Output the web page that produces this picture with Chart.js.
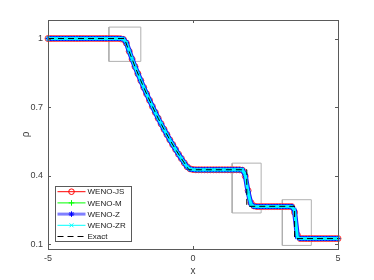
<!DOCTYPE html>
<html>
<head>
<meta charset="utf-8">
<script src="https://cdn.jsdelivr.net/npm/chart.js@4/dist/chart.umd.min.js"></script>
<style>
  body { margin: 0; background: #fff; }
  canvas { display: block; }
</style>
</head>
<body>
<canvas id="chart" width="374" height="280"></canvas>
<script>
// grid points of the numerical solutions
const xNum = [
  -5.0, -4.9, -4.8, -4.7, -4.6, -4.5, -4.4, -4.3, -4.2, -4.1,
  -4.0, -3.9, -3.8, -3.7, -3.6, -3.5, -3.4, -3.3, -3.2, -3.1,
  -3.0, -2.9, -2.8, -2.7, -2.6, -2.5, -2.4, -2.3, -2.2, -2.1,
  -2.0, -1.9, -1.8, -1.7, -1.6, -1.5, -1.4, -1.3, -1.2, -1.1,
  -1.0, -0.9, -0.8, -0.7, -0.6, -0.5, -0.4, -0.3, -0.2, -0.1,
  0.0, 0.1, 0.2, 0.3, 0.4, 0.5, 0.6, 0.7, 0.8, 0.9,
  1.0, 1.1, 1.2, 1.3, 1.4, 1.5, 1.6, 1.7, 1.8, 1.9,
  2.0, 2.1, 2.2, 2.3, 2.4, 2.5, 2.6, 2.7, 2.8, 2.9,
  3.0, 3.1, 3.2, 3.3, 3.4, 3.5, 3.6, 3.7, 3.8, 3.9,
  4.0, 4.1, 4.2, 4.3, 4.4, 4.5, 4.6, 4.7, 4.8, 4.9,
  5.0
];

const rhoJS = [
  1, 1, 1, 1, 1, 1, 1, 1, 1, 1,
  1, 1, 1, 1, 1, 1, 1, 1, 1, 1,
  1, 1, 1, 1, 1, 0.999, 0.996, 0.980, 0.944, 0.910,
  0.877, 0.846, 0.816, 0.786, 0.758, 0.730, 0.703, 0.677, 0.651, 0.627,
  0.603, 0.580, 0.557, 0.536, 0.515, 0.494, 0.475, 0.456, 0.439, 0.430,
  0.427, 0.426, 0.426, 0.426, 0.426, 0.426, 0.426, 0.426, 0.426, 0.426,
  0.426, 0.426, 0.426, 0.426, 0.426, 0.426, 0.426, 0.424, 0.398, 0.335,
  0.282, 0.268, 0.265, 0.265, 0.265, 0.265, 0.265, 0.265, 0.265, 0.265,
  0.265, 0.265, 0.265, 0.265, 0.265, 0.240, 0.140, 0.125, 0.125, 0.125,
  0.125, 0.125, 0.125, 0.125, 0.125, 0.125, 0.125, 0.125, 0.125, 0.125,
  0.125
];

const rhoM = [
  1, 1, 1, 1, 1, 1, 1, 1, 1, 1,
  1, 1, 1, 1, 1, 1, 1, 1, 1, 1,
  1, 1, 1, 1, 1, 1, 0.997, 0.981, 0.945, 0.910,
  0.877, 0.846, 0.816, 0.786, 0.758, 0.730, 0.703, 0.677, 0.651, 0.627,
  0.603, 0.580, 0.557, 0.536, 0.515, 0.494, 0.475, 0.456, 0.438, 0.429,
  0.427, 0.426, 0.426, 0.426, 0.426, 0.426, 0.426, 0.426, 0.426, 0.426,
  0.426, 0.426, 0.426, 0.426, 0.426, 0.426, 0.426, 0.425, 0.403, 0.330,
  0.277, 0.267, 0.265, 0.265, 0.265, 0.265, 0.265, 0.265, 0.265, 0.265,
  0.265, 0.265, 0.265, 0.265, 0.265, 0.245, 0.135, 0.125, 0.125, 0.125,
  0.125, 0.125, 0.125, 0.125, 0.125, 0.125, 0.125, 0.125, 0.125, 0.125,
  0.125
];

const rhoZ = [
  1, 1, 1, 1, 1, 1, 1, 1, 1, 1,
  1, 1, 1, 1, 1, 1, 1, 1, 1, 1,
  1, 1, 1, 1, 1, 1, 0.998, 0.982, 0.945, 0.910,
  0.877, 0.846, 0.816, 0.786, 0.758, 0.730, 0.703, 0.677, 0.651, 0.627,
  0.603, 0.580, 0.557, 0.536, 0.515, 0.494, 0.475, 0.456, 0.438, 0.429,
  0.427, 0.426, 0.426, 0.426, 0.426, 0.426, 0.426, 0.426, 0.426, 0.426,
  0.426, 0.426, 0.426, 0.426, 0.426, 0.426, 0.426, 0.425, 0.404, 0.328,
  0.276, 0.266, 0.265, 0.265, 0.265, 0.265, 0.265, 0.265, 0.265, 0.265,
  0.265, 0.265, 0.265, 0.265, 0.265, 0.247, 0.133, 0.125, 0.125, 0.125,
  0.125, 0.125, 0.125, 0.125, 0.125, 0.125, 0.125, 0.125, 0.125, 0.125,
  0.125
];

const rhoZR = [
  1, 1, 1, 1, 1, 1, 1, 1, 1, 1,
  1, 1, 1, 1, 1, 1, 1, 1, 1, 1,
  1, 1, 1, 1, 1, 1, 0.998, 0.982, 0.945, 0.910,
  0.877, 0.846, 0.816, 0.786, 0.758, 0.730, 0.703, 0.677, 0.651, 0.627,
  0.603, 0.580, 0.557, 0.536, 0.515, 0.494, 0.475, 0.456, 0.438, 0.429,
  0.427, 0.426, 0.426, 0.426, 0.426, 0.426, 0.426, 0.426, 0.426, 0.426,
  0.426, 0.426, 0.426, 0.426, 0.426, 0.426, 0.426, 0.426, 0.406, 0.326,
  0.274, 0.266, 0.265, 0.265, 0.265, 0.265, 0.265, 0.265, 0.265, 0.265,
  0.265, 0.265, 0.265, 0.265, 0.265, 0.250, 0.130, 0.125, 0.125, 0.125,
  0.125, 0.125, 0.125, 0.125, 0.125, 0.125, 0.125, 0.125, 0.125, 0.125,
  0.125
];

// exact solution
const xExact = [-5, -2.366, -2.2, -2.0, -1.8, -1.6, -1.4, -1.2, -1.0, -0.8, -0.6, -0.4, -0.2, -0.141, 1.855, 1.855, 3.504, 3.504, 5];
const rhoExact = [1, 1, 0.943, 0.877, 0.816, 0.758, 0.703, 0.651, 0.603, 0.557, 0.515, 0.475, 0.437, 0.426, 0.426, 0.266, 0.266, 0.125, 0.125];

// zoom-in boxes [x0, x1] and [y0, y1]
const boxX = [[-2.9, -1.8], [1.35, 2.35], [3.08, 4.08]];
const boxY = [[0.9, 1.05], [0.237, 0.455], [0.095, 0.295]];

const xTicks = [-5, 0, 5];
const yTicks = [0.1, 0.4, 0.7, 1];

const font = "'Liberation Sans', Arial, sans-serif";

function pts(xs, ys) {
    return xs.map((x, i) => ({ x: x, y: ys[i] }));
}

function boxPts(i) {
    const [x0, x1] = boxX[i];
    const [y0, y1] = boxY[i];
    return [{x: x0, y: y0}, {x: x1, y: y0}, {x: x1, y: y1}, {x: x0, y: y1}, {x: x0, y: y0}];
}

const datasets = [
    { label: 'Exact', data: pts(xExact, rhoExact), borderColor: '#000', borderWidth: 1, borderDash: [6, 4], pointRadius: 0, order: 0 },
    { label: 'WENO-ZR', data: pts(xNum, rhoZR), borderColor: '#00ffff', borderWidth: 3, pointStyle: 'crossRot', pointRadius: 2.5, pointBorderColor: '#00e5ff', pointBorderWidth: 1, order: 1 },
    { label: 'WENO-Z', data: pts(xNum, rhoZ), borderColor: '#1a1aff', borderWidth: 5, pointStyle: 'star', pointRadius: 2.5, pointBorderColor: '#0000ff', pointBorderWidth: 1, order: 2 },
    { label: 'WENO-M', data: pts(xNum, rhoM), borderColor: '#00ff00', borderWidth: 1, pointStyle: 'cross', pointRadius: 2.5, pointBorderColor: '#00ff00', pointBorderWidth: 1, order: 3 },
    { label: 'WENO-JS', data: pts(xNum, rhoJS), borderColor: '#ff0000', borderWidth: 1, pointStyle: 'circle', pointRadius: 3, pointBackgroundColor: 'rgba(0,0,0,0)', pointBorderColor: '#ff3030', pointBorderWidth: 1, order: 4 }
];
boxX.forEach((b, i) => {
    datasets.push({ label: 'box' + i, data: boxPts(i), borderColor: '#b0b0b0', borderWidth: 1, pointRadius: 0, order: 5 });
});

// legend entries in MATLAB order
const legendItems = [
    { text: 'WENO-JS', color: '#ff0000', width: 1, marker: 'circle', markerColor: '#ff0000' },
    { text: 'WENO-M', color: '#00ff00', width: 1, marker: 'cross', markerColor: '#00ff00' },
    { text: 'WENO-Z', color: '#8080ff', width: 3, marker: 'star', markerColor: '#0000ff' },
    { text: 'WENO-ZR', color: '#00ffff', width: 1, marker: 'crossRot', markerColor: '#00ffff' },
    { text: 'Exact', color: '#000', width: 1, dash: [6, 4] }
];

const framePlugin = {
    id: 'frame',
    afterDraw(chart) {
        const ctx = chart.ctx;
        const a = chart.chartArea;
        const xs = chart.scales.x, ys = chart.scales.y;
        ctx.save();
        ctx.strokeStyle = '#5a5a5a';
        ctx.lineWidth = 1;
        ctx.setLineDash([]);
        ctx.strokeRect(a.left + 0.5, a.top + 0.5, a.right - a.left, a.bottom - a.top);
        ctx.beginPath();
        xTicks.forEach(v => {
            const px = Math.round(xs.getPixelForValue(v)) + 0.5;
            ctx.moveTo(px, a.bottom); ctx.lineTo(px, a.bottom - 3);
            ctx.moveTo(px, a.top); ctx.lineTo(px, a.top + 3);
        });
        yTicks.forEach(v => {
            const py = Math.round(ys.getPixelForValue(v)) + 0.5;
            ctx.moveTo(a.left, py); ctx.lineTo(a.left + 3, py);
            ctx.moveTo(a.right, py); ctx.lineTo(a.right - 3, py);
        });
        ctx.stroke();

        // legend box
        const lx = 55.5, ly = 186.5, lw = 76, lh = 55;
        ctx.fillStyle = '#fff';
        ctx.fillRect(lx, ly, lw, lh);
        ctx.strokeStyle = '#5a5a5a';
        ctx.strokeRect(lx, ly, lw, lh);
        ctx.font = '8px ' + font;
        ctx.textBaseline = 'middle';
        legendItems.forEach((it, i) => {
            const y = 191.7 + i * 11.2;
            ctx.save();
            ctx.strokeStyle = it.color;
            ctx.lineWidth = it.width;
            ctx.setLineDash(it.dash || []);
            ctx.beginPath();
            ctx.moveTo(57.5, y); ctx.lineTo(85.5, y);
            ctx.stroke();
            ctx.restore();
            if (it.marker) {
                ctx.strokeStyle = it.markerColor;
                ctx.fillStyle = it.marker === 'star' ? it.markerColor : 'rgba(0,0,0,0)';
                ctx.lineWidth = 1;
                Chart.helpers.drawPoint(ctx, { pointStyle: it.marker, radius: 2.8, borderWidth: 1 }, 71.5, y);
            }
            ctx.fillStyle = '#1a1a1a';
            ctx.fillText(it.text, 87.5, y + 0.5);
        });
        ctx.restore();
    }
};

new Chart(document.getElementById('chart'), {
    type: 'line',
    data: { datasets: datasets },
    options: {
        responsive: false,
        animation: false,
        clip: 6,
        layout: { padding: { left: 0, right: 36, top: 20, bottom: 0 } },
        elements: { line: { tension: 0, fill: false } },
        plugins: { legend: { display: false }, tooltip: { enabled: false } },
        scales: {
            x: {
                type: 'linear',
                min: -5,
                max: 5,
                afterFit: s => { s.height = 31; },
                afterBuildTicks: s => { s.ticks = xTicks.map(v => ({ value: v })); },
                grid: { display: false, drawTicks: false, tickLength: 0 },
                border: { display: false },
                ticks: { padding: 4, color: '#404040', font: { family: font, size: 9 } },
                title: { display: true, text: 'x', color: '#404040', padding: { top: 0, bottom: 3 }, font: { family: font, size: 10 } }
            },
            y: {
                type: 'linear',
                min: 0.0794,
                max: 1.081,
                afterFit: s => { s.width = 48; },
                afterBuildTicks: s => { s.ticks = yTicks.map(v => ({ value: v })); },
                grid: { display: false, drawTicks: false, tickLength: 0 },
                border: { display: false },
                ticks: { padding: 5, color: '#404040', font: { family: font, size: 9 }, callback: v => String(v) },
                title: { display: true, text: 'ρ', color: '#404040', padding: { top: 20, bottom: 0 }, font: { family: font, size: 10 } }
            }
        }
    },
    plugins: [framePlugin]
});
</script>
</body>
</html>
